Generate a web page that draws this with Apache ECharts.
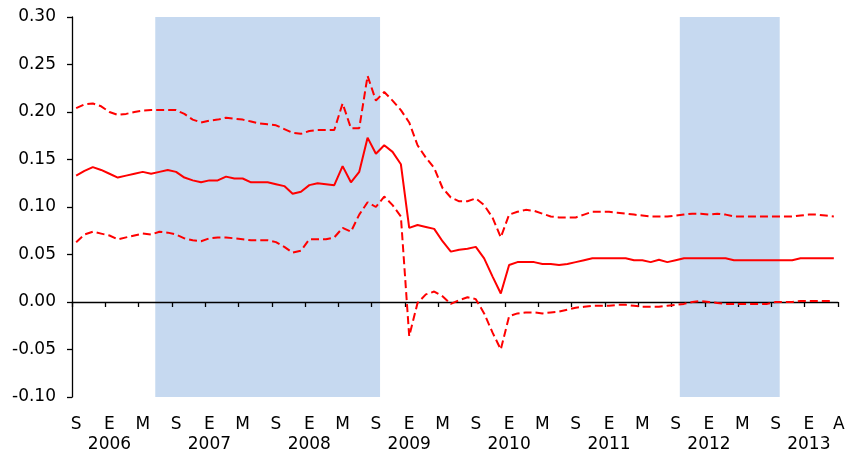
<!DOCTYPE html>
<html>
<head>
<meta charset="utf-8">
<script src="https://cdn.jsdelivr.net/npm/echarts@6/dist/echarts.min.js"></script>
<style>
html,body{margin:0;padding:0;background:#fff;}
#chart{width:847px;height:451px;}
</style>
</head>
<body>
<div id="chart"></div>
<script>
// Monthly categories, Sep 2005 - Apr 2013
var categories = [
 '2005-09','2005-10','2005-11','2005-12',
 '2006-01','2006-02','2006-03','2006-04','2006-05','2006-06','2006-07','2006-08','2006-09','2006-10','2006-11','2006-12',
 '2007-01','2007-02','2007-03','2007-04','2007-05','2007-06','2007-07','2007-08','2007-09','2007-10','2007-11','2007-12',
 '2008-01','2008-02','2008-03','2008-04','2008-05','2008-06','2008-07','2008-08','2008-09','2008-10','2008-11','2008-12',
 '2009-01','2009-02','2009-03','2009-04','2009-05','2009-06','2009-07','2009-08','2009-09','2009-10','2009-11','2009-12',
 '2010-01','2010-02','2010-03','2010-04','2010-05','2010-06','2010-07','2010-08','2010-09','2010-10','2010-11','2010-12',
 '2011-01','2011-02','2011-03','2011-04','2011-05','2011-06','2011-07','2011-08','2011-09','2011-10','2011-11','2011-12',
 '2012-01','2012-02','2012-03','2012-04','2012-05','2012-06','2012-07','2012-08','2012-09','2012-10','2012-11','2012-12',
 '2013-01','2013-02','2013-03','2013-04'
];

// Central estimate (solid line)
var central = [
 0.133,0.138,0.142,0.139,0.135,0.131,0.133,0.135,0.137,0.135,
 0.137,0.139,0.137,0.131,0.128,0.126,0.128,0.128,0.132,0.130,
 0.130,0.126,0.126,0.126,0.124,0.122,0.114,0.116,0.123,0.125,
 0.124,0.123,0.143,0.126,0.137,0.173,0.156,0.165,0.158,0.145,
 0.078,0.081,0.079,0.077,0.064,0.053,0.055,0.056,0.058,0.046,
 0.027,0.009,0.039,0.042,0.042,0.042,0.040,0.040,0.039,0.040,
 0.042,0.044,0.046,0.046,0.046,0.046,0.046,0.044,0.044,0.042,
 0.0445,0.042,0.044,0.046,0.046,0.046,0.046,0.046,0.046,0.044,
 0.044,0.044,0.044,0.044,0.044,0.044,0.044,0.046,0.046,0.046,
 0.046,0.046
];

// Upper band (dashed)
var upper = [
 0.204,0.208,0.209,0.206,0.200,0.197,0.198,0.200,0.2015,0.202,
 0.202,0.202,0.202,0.198,0.192,0.189,0.191,0.192,0.194,0.193,
 0.192,0.190,0.188,0.187,0.186,0.182,0.178,0.177,0.180,0.181,
 0.181,0.181,0.209,0.183,0.183,0.238,0.212,0.221,0.212,0.202,
 0.189,0.165,0.152,0.141,0.120,0.110,0.106,0.106,0.109,0.102,
 0.089,0.068,0.092,0.095,0.097,0.096,0.093,0.090,0.089,0.089,
 0.089,0.092,0.095,0.095,0.095,0.094,0.093,0.092,0.091,0.090,
 0.090,0.090,0.091,0.092,0.093,0.093,0.092,0.093,0.092,0.090,
 0.090,0.090,0.090,0.090,0.090,0.090,0.090,0.091,0.092,0.092,
 0.091,0.090
];

// Lower band (dashed)
var lower = [
 0.063,0.071,0.074,0.072,0.070,0.066,0.068,0.070,0.072,0.071,
 0.074,0.073,0.071,0.067,0.065,0.064,0.067,0.068,0.068,0.067,
 0.066,0.065,0.065,0.065,0.063,0.058,0.052,0.054,0.066,0.066,
 0.066,0.068,0.078,0.074,0.092,0.105,0.100,0.111,0.102,0.090,
 -0.036,-0.001,0.008,0.011,0.006,-0.002,0.002,0.005,0.003,-0.012,
 -0.032,-0.050,-0.015,-0.012,-0.011,-0.011,-0.012,-0.011,-0.010,-0.008,
 -0.006,-0.005,-0.004,-0.004,-0.004,-0.003,-0.003,-0.004,-0.005,-0.005,
 -0.005,-0.004,-0.003,-0.002,0.000,0.001,0.000,-0.001,-0.002,-0.002,
 -0.002,-0.002,-0.002,-0.002,0.000,0.000,0.000,0.001,0.001,0.001,
 0.001,0.001
];

// Tick labels (every 4 months, last one = April 2013) and year labels
var monthLabels = ['S','E','M','S','E','M','S','E','M','S','E','M','S','E','M','S','E','M','S','E','M','S','E','A'];
var yearLabels = ['2006','2007','2008','2009','2010','2011','2012','2013'];

// Shaded periods (first and last month inclusive)
var shadedPeriods = [['2006-07','2008-09'],['2011-10','2012-09']];

var FONT = 'DejaVu Sans';
var lastIdx = categories.length - 1;

var bands = shadedPeriods.map(function (p) {
  return [{ xAxis: categories.indexOf(p[0]) }, { xAxis: categories.indexOf(p[1]) + 1 }];
});

var labelAxisBase = {
  type: 'category',
  data: categories,
  boundaryGap: true,
  position: 'bottom',
  axisLine: { show: false, onZero: false },
  axisTick: { show: false },
  splitLine: { show: false }
};

var chart = echarts.init(document.getElementById('chart'), null, { renderer: 'canvas' });

var option = {
  animation: false,
  backgroundColor: '#ffffff',
  grid: { left: 72, right: 9, top: 17, bottom: 54, containLabel: false, outerBoundsMode: 'none' },
  xAxis: [
    {
      type: 'category',
      data: categories,
      boundaryGap: true,
      z: 3,
      axisLine: { show: true, onZero: true, lineStyle: { color: '#000', width: 1.3 } },
      axisTick: { show: true, interval: 3, length: 5, inside: false, lineStyle: { color: '#000', width: 1.3 } },
      axisLabel: { show: false },
      splitLine: { show: false }
    },
    Object.assign({}, labelAxisBase, {
      axisLabel: {
        show: true,
        showMaxLabel: true,
        showMinLabel: true,
        interval: function (index) { return index % 4 === 0; },
        margin: 18,
        fontFamily: FONT,
        fontSize: 17,
        color: '#000',
        lineHeight: 20,
        formatter: function (value, index) {
          var s = monthLabels[index / 4];
          if ((index - 4) % 12 === 0) s += '\n' + yearLabels[(index - 4) / 12];
          return s;
        }
      }
    }),
    {
      type: 'value',
      show: false,
      min: 0,
      max: categories.length
    },
    Object.assign({}, labelAxisBase, {
      axisLabel: {
        show: true,
        showMaxLabel: true,
        showMinLabel: false,
        interval: function (index) { return index === lastIdx; },
        margin: 18,
        fontFamily: FONT,
        fontSize: 17,
        color: '#000',
        lineHeight: 20,
        formatter: function () {
          return '{a|' + monthLabels[monthLabels.length - 1] + '}';
        },
        rich: {
          a: { fontFamily: FONT, fontSize: 17, color: '#000', padding: [0, 0, 0, 10], lineHeight: 20 }
        }
      }
    })
  ],
  yAxis: {
    type: 'value',
    min: -0.1,
    max: 0.3,
    interval: 0.05,
    z: 3,
    axisLine: { show: true, onZero: false, lineStyle: { color: '#000', width: 1.3 } },
    axisTick: { show: true, length: 5, inside: false, lineStyle: { color: '#000', width: 1.3 } },
    splitLine: { show: false },
    axisLabel: {
      margin: 16,
      fontFamily: FONT,
      fontSize: 17,
      color: '#000',
      formatter: function (v) { return v.toFixed(2); }
    }
  },
  series: [
    {
      name: 'bands',
      type: 'line',
      xAxisIndex: 2,
      data: [],
      silent: true,
      markArea: {
        silent: true,
        z: 1,
        itemStyle: { color: '#C6D9F0', opacity: 1 },
        data: bands
      }
    },
    {
      name: 'upper',
      type: 'line',
      data: upper,
      z: 5,
      symbol: 'none',
      lineStyle: { color: '#FF0000', width: 2, type: [8, 4] }
    },
    {
      name: 'central',
      type: 'line',
      data: central,
      z: 5,
      symbol: 'none',
      lineStyle: { color: '#FF0000', width: 2, type: 'solid' }
    },
    {
      name: 'lower',
      type: 'line',
      data: lower,
      z: 5,
      symbol: 'none',
      lineStyle: { color: '#FF0000', width: 2, type: [8, 4] }
    }
  ]
};

chart.setOption(option);
</script>
</body>
</html>
